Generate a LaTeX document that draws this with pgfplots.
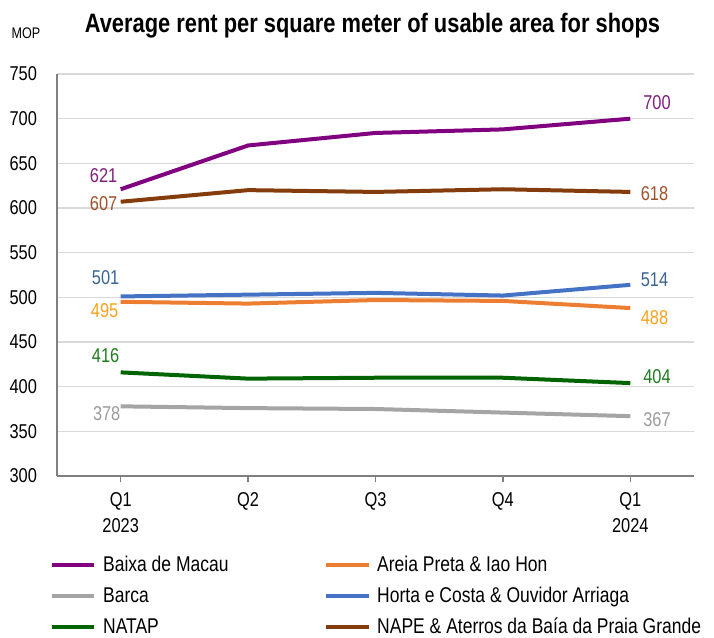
\documentclass[border=0pt]{standalone}
\usepackage{pgfplots}
\pgfplotsset{compat=1.18}
\usepackage{fontspec}
\setmainfont{Liberation Sans}[FakeStretch=0.82]
\definecolor{cpurple}{HTML}{800080}
\definecolor{corange}{HTML}{ED7D31}
\definecolor{cgray}{HTML}{A5A5A5}
\definecolor{cblue}{HTML}{4472C4}
\definecolor{cgreen}{HTML}{006400}
\definecolor{cbrown}{HTML}{843C0C}
\definecolor{lpurple}{HTML}{7F1F7F}
\definecolor{lorange}{HTML}{F9A31B}
\definecolor{lgray}{HTML}{9B9B9B}
\definecolor{lblue}{HTML}{3A6496}
\definecolor{lgreen}{HTML}{1E7B1E}
\definecolor{lbrown}{HTML}{A0522D}
\definecolor{gridc}{HTML}{D9D9D9}
\definecolor{axc}{HTML}{808080}
\begin{document}
\begin{tikzpicture}
\path[use as bounding box] (-42.75pt,-120.75pt) rectangle (492.75pt,357pt);
\begin{axis}[
  scale only axis,
  width=477.75pt, height=301.5pt,
  xmin=-0.5, xmax=4.5, ymin=300, ymax=750,
  xtick={0,1,2,3,4},
  xticklabels={Q1\\2023,Q2,Q3,Q4,Q1\\2024},
  xticklabel style={align=center, font=\fontsize{15}{19.5}\selectfont, yshift=-4pt},
  ytick={300,350,...,750},
  yticklabel style={font=\fontsize{15}{18}\selectfont, xshift=-7pt},
  /pgf/number format/assume math mode=true,
  ymajorgrids,
  grid style={gridc, line width=1.1pt},
  axis x line*=bottom, axis y line*=left,
  axis line style={axc, line width=1.2pt, -},
  x axis line style={-},
  tick align=outside,
  xtick style={axc, line width=1pt},
  major tick length=4.5pt,
  ytick style={draw=none},
  clip=false,
  legend columns=2,
  legend cell align=left,
  legend style={at={(-0.018,-0.186)}, anchor=north west, draw=none, fill=none,
    font=\fontsize{16}{19}\selectfont,
    row sep=6pt,
    /tikz/every even column/.append style={column sep=69.5pt}},
  legend image code/.code={\draw[#1, line width=3pt] (0pt,0pt) -- (32pt,0pt); \path (35pt,0pt);},
]
\addplot[cpurple, line width=3pt] coordinates {(0,621) (1,670) (2,684) (3,688) (4,700)};
\addlegendentry{Baixa de Macau}
\addplot[corange, line width=3pt] coordinates {(0,495) (1,493) (2,497) (3,496) (4,488)};
\addlegendentry{Areia Preta \& Iao Hon}
\addplot[cgray, line width=3pt] coordinates {(0,378) (1,376) (2,375) (3,371) (4,367)};
\addlegendentry{Barca}
\addplot[cblue, line width=3pt] coordinates {(0,501) (1,503) (2,505) (3,502) (4,514)};
\addlegendentry{Horta e Costa \& Ouvidor Arriaga}
\addplot[cgreen, line width=3pt] coordinates {(0,416) (1,409) (2,410) (3,410) (4,404)};
\addlegendentry{NATAP}
\addplot[cbrown, line width=3pt] coordinates {(0,607) (1,620) (2,618) (3,621) (4,618)};
\addlegendentry{NAPE \& Aterros da Baía da Praia Grande}

\begin{scope}[every node/.style={font=\fontsize{15}{18}\selectfont}]
\node[lpurple] at (axis cs:-0.134,635.8) {621};
\node[lbrown] at (axis cs:-0.134,604.5) {607};
\node[lblue] at (axis cs:-0.118,521.7) {501};
\node[lorange] at (axis cs:-0.126,484.7) {495};
\node[lgreen] at (axis cs:-0.118,434.4) {416};
\node[lgray] at (axis cs:-0.11,369.5) {378};
\node[lpurple] at (axis cs:4.21,717.5) {700};
\node[lbrown] at (axis cs:4.19,615.6) {618};
\node[lblue] at (axis cs:4.19,519.3) {514};
\node[lorange] at (axis cs:4.19,476.8) {488};
\node[lgreen] at (axis cs:4.21,410.8) {404};
\node[lgray] at (axis cs:4.21,362.7) {367};
\end{scope}
\end{axis}
\node[font=\bfseries\fontsize{20}{24}\selectfont] at (236.6pt,338pt) {Average rent per square meter of usable area for shops};
\node[font=\fontsize{11.5}{13}\selectfont] at (-23.25pt,332.25pt) {MOP};
\end{tikzpicture}
\end{document}
